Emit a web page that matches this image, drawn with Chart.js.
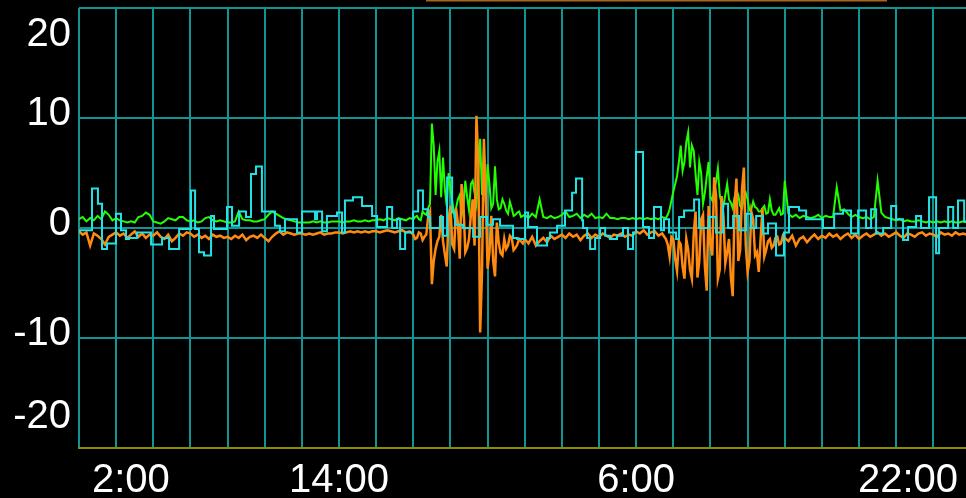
<!DOCTYPE html>
<html>
<head>
<meta charset="utf-8">
<script src="https://cdn.jsdelivr.net/npm/chart.js@4.4.1/dist/chart.umd.min.js"></script>
<style>
  html, body { margin: 0; padding: 0; background: #000; overflow: hidden; }
  canvas { display: block; }
</style>
</head>
<body>
<canvas id="c" width="966" height="498"></canvas>
<script>
// ---- data (hours since start of window) ----
const cyanTimes = [0.00,0.70,1.02,1.24,1.51,1.99,2.26,2.53,2.69,3.12,
  3.88,4.47,4.85,5.39,6.03,6.25,6.46,6.73,7.11,7.27,
  7.97,8.24,8.62,8.99,9.26,9.53,9.85,10.55,10.82,11.09,
  11.74,12.01,12.71,12.82,13.09,13.35,13.89,14.16,14.32,14.75,
  15.24,15.78,16.05,16.59,16.86,17.12,17.29,17.56,17.99,18.26,
  18.52,18.79,18.90,19.44,19.60,19.82,20.09,20.25,20.68,21.22,
  21.59,21.97,22.29,22.67,23.37,23.59,24.02,24.18,24.66,25.20,
  25.36,25.74,26.17,26.55,26.76,27.09,27.14,27.36,27.52,27.79,
  28.06,28.33,28.59,28.97,29.29,29.56,29.83,29.99,30.37,30.69,
  30.96,31.34,31.50,31.77,32.15,32.31,32.58,33.12,33.39,33.93,
  34.30,34.68,34.95,35.22,35.54,35.92,36.19,36.46,36.83,37.10,
  37.53,37.96,38.23,38.77,39.15,40.06,40.66,41.14,41.57,41.95,
  42.38,42.65,42.92,43.30,43.73,44.00,44.37,44.64,45.07,45.34,
  45.77,46.15,46.31,46.80,47.07,47.33,47.66,47.76];
const cyanValues = [-0.2,3.6,2.2,-1.9,-1.4,1.3,-0.2,-1.0,-0.9,-0.4,
  -1.5,-0.9,-1.9,-0.1,3.4,-0.1,-2.2,-2.5,1.1,-0.1,
  1.9,0.2,1.5,1.0,4.9,5.6,1.5,0.2,-0.3,0.8,
  -0.4,1.5,0.8,1.5,-0.3,1.1,1.4,-0.4,2.5,2.8,
  2.0,1.1,0.1,1.9,0.0,0.8,-1.9,-0.4,1.5,3.4,
  1.7,1.0,0.0,1.0,-0.7,4.6,1.4,0.3,0.0,-0.8,
  1.0,0.3,0.8,0.2,-0.9,-1.0,1.4,0.1,-1.6,-0.9,
  -0.4,0.2,1.6,3.2,4.5,0.7,0.0,-0.9,-1.9,-0.9,
  0.0,-0.7,-1.0,-0.7,0.0,-1.9,-0.4,6.9,0.1,-0.9,
  1.9,-0.2,0.8,-0.4,-1.0,1.0,1.6,2.6,0.0,1.0,
  -0.4,2.2,0.0,1.1,-0.2,1.3,0.0,1.1,-0.5,0.4,
  -2.5,-0.4,1.9,1.6,0.8,0.0,1.3,1.6,-0.5,1.6,
  0.0,1.7,-0.5,0.0,2.0,0.8,-1.1,0.1,1.1,0.0,
  2.8,-2.3,0.0,1.9,0.0,2.5,0.6,0.6];

// green and orange series sampled every 0.2 h (12 min)
const sampleStepHours = 0.2;
const greenValues = [0.8,1.0,0.6,0.9,0.7,1.1,0.8,1.5,1.2,0.7,
  0.9,0.7,0.6,0.5,0.6,0.5,1.0,1.1,1.4,1.2,
  0.6,0.5,0.4,0.6,0.9,0.8,0.7,1.0,1.0,0.7,
  0.6,0.7,0.5,0.6,0.9,1.0,0.7,0.6,0.7,0.6,
  0.5,0.5,0.6,1.5,0.8,0.7,0.7,0.6,0.6,0.7,
  0.8,1.2,1.5,1.3,1.1,0.9,0.8,0.7,0.6,0.5,
  0.5,0.5,0.5,0.6,0.5,0.6,0.5,0.5,0.6,0.6,
  0.6,0.5,0.6,0.6,0.7,0.6,0.6,0.7,0.6,0.7,
  0.7,0.8,0.7,0.9,0.8,0.7,0.9,0.8,0.7,0.9,
  0.8,1.1,0.7,1.3,1.8,9.5,3.0,7.0,6.4,2.0,
  3.5,1.2,2.6,1.1,4.3,1.6,4.3,2.2,8.1,7.2,
  5.8,1.8,5.6,1.7,2.6,1.6,2.4,1.1,1.4,1.0,
  1.2,0.9,1.3,1.0,2.6,1.0,0.9,1.1,0.9,1.0,
  1.2,1.5,1.0,1.1,1.3,0.9,1.2,1.0,1.3,0.9,
  1.0,0.9,1.3,0.9,0.9,0.8,0.9,0.9,0.8,0.9,
  0.8,0.9,0.8,0.9,0.8,0.9,0.8,1.0,0.9,1.7,
  3.3,4.7,7.5,6.0,8.7,7.5,4.9,6.0,2.2,4.7,
  2.8,3.5,5.4,2.2,3.0,2.6,1.8,3.5,2.0,2.8,
  2.6,1.7,1.9,1.5,1.8,1.3,2.6,1.2,1.5,1.2,
  4.3,1.3,1.0,1.2,0.9,1.1,1.0,0.9,1.0,1.2,
  0.9,1.1,1.0,1.0,3.7,1.6,1.7,1.3,1.0,1.2,
  1.0,0.9,1.0,0.8,1.0,4.3,1.4,1.0,0.9,0.8,
  0.7,0.8,0.6,0.7,0.6,0.6,0.7,0.6,0.5,0.6,
  0.5,0.6,0.5,0.6,0.5,0.6,0.5,0.5,0.6,0.5];
const orangeValues = [-0.3,-0.6,-0.4,-1.6,-0.5,-0.7,-1.0,-1.5,-0.8,-0.6,
  -0.4,-0.7,-0.5,-0.9,-0.6,-0.3,-0.8,-0.5,-0.9,-0.6,
  -0.7,-0.4,-0.8,-1.0,-0.6,-1.2,-0.9,-0.5,-0.7,-0.4,
  -0.5,-0.8,-0.6,-0.9,-0.7,-1.0,-0.6,-0.8,-0.7,-0.9,
  -0.8,-1.0,-0.7,-0.9,-0.6,-1.1,-0.8,-0.7,-0.9,-0.6,
  -0.9,-1.2,-0.8,-0.5,-0.3,-0.6,-0.4,-0.5,-0.6,-0.5,
  -0.5,-0.6,-0.5,-0.6,-0.5,-0.4,-0.6,-0.5,-0.5,-0.4,
  -0.4,-0.5,-0.4,-0.3,-0.4,-0.3,-0.4,-0.3,-0.4,-0.3,
  -0.3,-0.4,-0.3,-0.2,-0.3,-0.4,-0.3,-0.2,-0.4,-0.3,
  -0.6,-0.9,-0.5,-0.8,1.0,-5.1,-1.9,-0.8,-1.2,-3.5,
  2.0,-1.9,0.5,4.0,-2.2,-1.0,2.6,10.2,-9.5,8.1,
  -3.7,1.1,-4.4,-1.3,-2.5,-1.9,-0.7,-2.0,-1.5,-1.2,
  -1.0,-1.4,-0.8,-1.6,-1.2,-0.9,-1.3,-0.7,-1.0,-0.8,
  -0.6,-0.9,-0.5,-0.8,-0.6,-1.1,-0.7,-0.5,-0.9,-0.6,
  -0.8,-0.5,-0.7,-0.9,-0.6,-0.7,-0.5,-0.8,-0.6,-0.7,
  -0.3,-0.5,-0.2,-0.6,-0.4,-0.3,-0.7,-0.5,-1.0,-2.6,
  -1.0,-3.9,-1.5,-4.6,-2.0,-4.6,1.5,-3.0,1.2,-5.7,
  -1.5,4.6,-4.6,2.9,-3.2,-1.0,-6.2,4.5,-2.0,5.5,
  -4.0,1.5,-2.5,-4.0,1.8,-2.0,-1.0,-1.6,-0.8,-1.4,
  -0.9,-1.2,-0.7,-1.6,-1.0,-0.8,-1.3,-0.9,-0.6,-1.0,
  -0.7,-0.9,-0.5,-0.8,-0.6,-1.0,-0.7,-0.5,-0.9,-0.6,
  -1.0,-0.7,-0.5,-0.8,-0.6,-0.4,-0.7,-0.5,-0.8,-0.6,
  -0.4,-0.7,-0.9,-0.5,-0.6,-0.8,-0.5,-0.4,-0.7,-0.5,
  -0.6,-0.8,-0.4,-0.6,-0.5,-0.7,-0.4,-0.6,-0.5,-0.6];

// extra in-between readings during the two disturbed periods
const burstTimes = [18.1,18.3,18.5,18.7,18.9,19.1,19.3,19.5,19.7,19.9,
  20.1,20.3,20.5,20.7,20.9,21.1,21.3,21.5,21.7,21.9,
  22.1,22.3,22.5,22.7,22.9,23.1,23.3,23.5,23.7,23.9,
  31.7,31.9,32.1,32.3,32.5,32.7,32.9,33.1,33.3,33.5,
  33.7,33.9,34.1,34.3,34.5,34.7,34.9,35.1,35.3,35.5,
  35.7,35.9,36.1,36.3,36.5,36.7,36.9,37.1,37.3,37.5,
  37.7,37.9];
const greenBurstValues = [1.0,0.8,1.5,1.2,2.2,7.5,6.0,2.8,3.5,5.0,
  2.4,1.8,3.0,2.0,2.8,4.0,3.2,5.0,3.0,2.4,
  4.0,2.2,2.6,1.8,2.2,1.3,1.8,1.2,1.5,1.1,
  1.2,2.5,4.0,6.0,5.2,7.8,5.5,7.0,3.0,5.0,
  3.2,6.0,2.5,4.2,3.0,2.0,4.0,2.3,2.8,3.0,
  1.8,3.2,1.6,2.4,1.8,1.5,2.0,1.4,1.6,1.2,
  1.8,1.3];
const orangeBurstValues = [-1.0,-0.4,-1.1,-0.6,1.5,-3.0,-1.2,1.2,-2.4,0.8,
  -1.5,1.8,-2.8,2.2,-1.8,1.2,-1.6,6.0,-4.0,3.0,
  -2.2,-3.0,0.5,-2.3,-1.0,-1.6,-0.9,-1.8,-1.0,-1.4,
  -1.5,-0.8,-2.8,-1.2,-3.5,-1.0,-3.8,-0.5,-4.5,0.8,
  -3.5,2.0,-2.5,3.0,-3.8,1.0,-2.2,-4.5,2.0,-3.0,
  3.5,-1.5,-3.0,0.8,-2.2,-1.0,-2.6,-1.2,-1.8,-0.9,
  -1.5,-0.7];

// axis ticks
const xTickHours = [2, 14, 30, 46];
const xTickLabels = ['2:00', '14:00', '6:00', '22:00'];
const yTickValues = [20, 10, 0, -10, -20];
const xMaxHours = 47.76;

// ---- build datasets ----
const sampleTimes = greenValues.map((_, i) => +(i * sampleStepHours).toFixed(2));
const merge = (base, burst) => sampleTimes.map((t, i) => ({ x: t, y: base[i] }))
  .concat(burstTimes.map((t, i) => ({ x: t, y: burst[i] })))
  .sort((a, b) => a.x - b.x);
const cyanPts = cyanTimes.map((t, i) => ({ x: t, y: cyanValues[i] }));
const greenPts = merge(greenValues, greenBurstValues);
const orangePts = merge(orangeValues, orangeBurstValues);

const GRID = '#119494';
const FONT = '40px "Liberation Sans", Arial, sans-serif';

const labelPlugin = {
  id: 'labels',
  afterDraw(chart) {
    const ctx = chart.ctx, a = chart.chartArea;
    const xs = chart.scales.x, ys = chart.scales.y;
    ctx.save();
    // partial frame at the top
    ctx.fillStyle = '#a8641e';
    ctx.fillRect(426, 0, 461, 1.5);
    ctx.font = FONT;
    ctx.fillStyle = '#ffffff';
    ctx.textBaseline = 'alphabetic';
    ctx.textAlign = 'right';
    yTickValues.forEach(v => {
      let yb = ys.getPixelForValue(v) + 7;
      yb = Math.max(a.top + 38, Math.min(a.bottom - 20, yb));
      ctx.fillText(String(v), a.left - 8, yb);
    });
    ctx.textAlign = 'left';
    xTickHours.forEach((h, i) => {
      const txt = xTickLabels[i];
      const w = ctx.measureText(txt).width;
      let l = xs.getPixelForValue(h) - w / 2;
      l = Math.max(a.left + 13, Math.min(a.right - 8 - w, l));
      ctx.fillText(txt, l, a.bottom + 44);
    });
    ctx.restore();
  }
};

new Chart(document.getElementById('c'), {
  type: 'line',
  data: {
    datasets: [
      { data: cyanPts, borderColor: '#22e2e6', borderWidth: 2, stepped: 'before', pointRadius: 0, tension: 0, fill: false },
      { data: orangePts, borderColor: '#ff8a10', borderWidth: 2.5, pointRadius: 0, tension: 0, fill: false },
      { data: greenPts, borderColor: '#22ff00', borderWidth: 2, pointRadius: 0, tension: 0, fill: false }
    ]
  },
  options: {
    responsive: false,
    animation: false,
    events: [],
    layout: { padding: { left: 79, top: 8, right: 0, bottom: 50 } },
    plugins: { legend: { display: false }, tooltip: { enabled: false } },
    scales: {
      x: {
        type: 'linear', min: 0, max: xMaxHours,
        ticks: { display: false, stepSize: 2, includeBounds: false },
        grid: { color: GRID, lineWidth: 2, drawTicks: false },
        border: { display: true, color: '#8c8c00', width: 2 },
        afterFit(s) { s.height = 0; }
      },
      y: {
        min: -20, max: 20,
        ticks: { display: false, stepSize: 10 },
        grid: {
          color: c => (c.tick && c.tick.value === -20) ? 'rgba(0,0,0,0)' : GRID,
          lineWidth: 2, drawTicks: false
        },
        border: { display: false },
        afterFit(s) { s.width = 0; }
      }
    }
  },
  plugins: [labelPlugin]
});
</script>
</body>
</html>
